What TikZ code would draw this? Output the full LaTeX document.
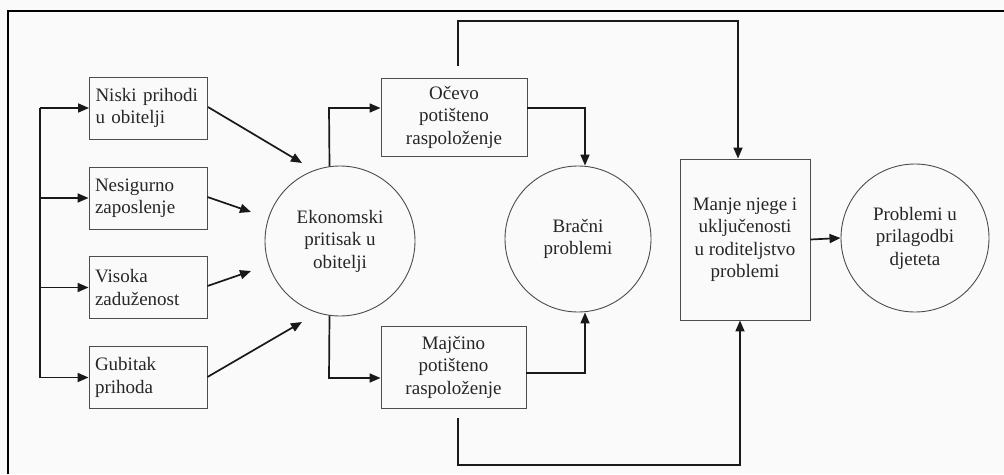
\documentclass[tikz,border=0pt]{standalone}
\usepackage{fontspec}
\setmainfont{Liberation Serif}
\usetikzlibrary{arrows.meta}
\begin{document}
\begin{tikzpicture}[x=1pt,y=-1pt,
  every node/.style={font=\fontsize{19}{22.5}\selectfont, text=black!85, inner sep=0pt},
  lbox/.style={draw=black!70, line width=0.9pt, minimum width=118pt, minimum height=62pt, align=left, text width=106pt},
  cbox/.style={draw=black!70, line width=0.9pt, align=center},
  circ/.style={draw=black!70, line width=0.9pt, circle, minimum size=146pt, align=center},
  conn/.style={draw=black!90, line width=1.7pt},
  arr/.style={conn, -{Triangle[length=11pt,width=9pt]}}]
\useasboundingbox (0,0) rectangle (1004,474);
\fill[black!2] (0,0) rectangle (1004,474);
\draw[black, line width=2pt] (8,474) -- (8,11) -- (1004,11);
% left boxes
\node[lbox] (n1) at (148.5,108) {Niski prihodi\\u obitelji};
\node[lbox] (n2) at (148,198) {Nesigurno\\zaposlenje};
\node[lbox] (n3) at (148,287.5) {Visoka\\zaduženost};
\node[lbox] (n4) at (148,377.5) {Gubitak\\prihoda};
% circles and boxes
\node[circ, minimum size=150pt] (eko) at (340,241) {Ekonomski\\pritisak u\\obitelji};
\node[cbox, minimum width=146pt, minimum height=78pt] (oce) at (454,117) {Očevo\\potišteno\\raspoloženje};
\node[cbox, minimum width=145pt, minimum height=82pt] (maj) at (453.5,367) {Majčino\\potišteno\\raspoloženje};
\node[circ] (bra) at (578,239) {Bračni\\problemi};
\node[cbox, minimum width=130pt, minimum height=161pt] (man) at (745,239.5) {Manje njege i\\uključenosti\\u roditeljstvo\\problemi};
\node[circ, minimum size=148pt] (pro) at (915,238) {Problemi u\\prilagodbi\\djeteta};
% left trunk
\coordinate (tl) at (40,0);
\draw[conn] (tl |- n1.west) -- (tl |- n4.west);
\foreach \n in {n1,n2,n3,n4} \draw[arr] (tl |- \n.west) -- (\n.west);
% diagonal arrows into eko
\coordinate (a1) at (302,163);
\coordinate (a2) at (251,212);
\coordinate (a3) at (251,271);
\coordinate (a4) at (302,322);
\draw[arr] (n1.east |- 0,107) -- (a1);
\draw[arr] (n2.east |- 0,197) -- (a2);
\draw[arr] (n3.east |- 0,286) -- (a3);
\draw[arr] (n4.east |- 0,377) -- (a4);
% eko to parents
\coordinate (e1) at (329,108);
\coordinate (e2) at (329,378);
\draw[arr] (eko.98.5) -- (e1) -- (oce.west |- e1);
\draw[arr] (eko.-98.5) -- (e2) -- (maj.west |- e2);
% parents to bracni
\coordinate (b1) at (585,108);
\coordinate (b2) at (585,373);
\draw[arr] (oce.east |- b1) -- (b1) -- (bra.north -| b1);
\draw[arr] (maj.east |- b2) -- (b2) -- (bra.south -| b2);
% long loops to man
\coordinate (t1) at (458,21);
\coordinate (t2) at (738,21);
\coordinate (u1) at (458,465);
\coordinate (u2) at (740,465);
\draw[arr, shorten <=12pt] (oce.north -| t1) -- (t1) -- (t2) -- (man.north -| t2);
\draw[arr, shorten <=10pt] (maj.south -| u1) -- (u1) -- (u2) -- (man.south -| u2);
% man to pro
\draw[arr] (man.east) -- (pro.west);
\end{tikzpicture}
\end{document}
